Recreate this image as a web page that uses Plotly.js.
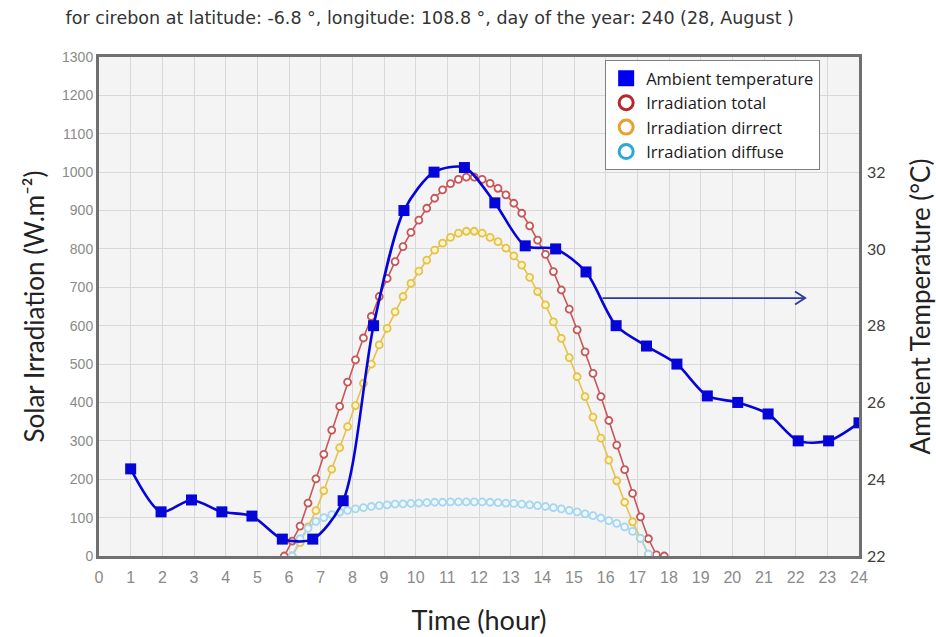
<!DOCTYPE html>
<html>
<head>
<meta charset="utf-8">
<script src="https://cdn.plot.ly/plotly-3.0.1.min.js"></script>
<style>
  html, body { margin: 0; padding: 0; background: #ffffff; }
  #chart { width: 936px; height: 637px; }
</style>
</head>
<body>
<div id="chart"></div>
<script>
// ---- Ambient temperature (right axis, °C) ----
const timeTemp = [1.00, 1.96, 2.92, 3.88, 4.83, 5.79, 6.75, 7.71, 8.67, 9.63, 10.58, 11.54, 12.50,
                  13.46, 14.42, 15.38, 16.33, 17.29, 18.25, 19.21, 20.17, 21.13, 22.08, 23.04, 24.00];
const ambientTemp = [24.27, 23.15, 23.46, 23.15, 23.04, 22.44, 22.44, 23.44, 28.0, 31.0, 32.0, 32.12, 31.2,
                     30.08, 30.0, 29.4, 28.0, 27.47, 27.0, 26.17, 26.0, 25.7, 25.0, 25.0, 25.47];

// ---- Irradiation total (W/m2) ----
const timeTotal = [5.85, 6.10, 6.35, 6.60, 6.85, 7.10, 7.35, 7.60, 7.85, 8.10, 8.35, 8.60, 8.85,
                   9.10, 9.35, 9.60, 9.85, 10.10, 10.35, 10.60, 10.85, 11.10, 11.35, 11.60, 11.85,
                   12.10, 12.35, 12.60, 12.85, 13.10, 13.35, 13.60, 13.85, 14.10, 14.35, 14.60, 14.85,
                   15.10, 15.35, 15.60, 15.85, 16.10, 16.35, 16.60, 16.85, 17.10, 17.35, 17.60, 17.85];
const irrTotal = [0, 39, 78, 138, 201, 265, 328, 390, 453, 511, 568, 624, 676,
                  723, 767, 806, 843, 875, 906, 932, 954, 970, 981, 987, 987,
                  981, 971, 958, 941, 919, 893, 860, 823, 786, 741, 693, 643,
                  589, 532, 476, 415, 353, 289, 225, 163, 102, 45, 3, 0];

// ---- Irradiation direct (W/m2) ----
const timeDirect = [6.10, 6.35, 6.60, 6.85, 7.10, 7.35, 7.60, 7.85, 8.10, 8.35, 8.60, 8.85,
                    9.10, 9.35, 9.60, 9.85, 10.10, 10.35, 10.60, 10.85, 11.10, 11.35, 11.60, 11.85,
                    12.10, 12.35, 12.60, 12.85, 13.10, 13.35, 13.60, 13.85, 14.10, 14.35, 14.60, 14.85,
                    15.10, 15.35, 15.60, 15.85, 16.10, 16.35, 16.60, 16.85, 17.10, 17.35];
const irrDirect = [0, 35, 76, 118, 170, 226, 282, 337, 392, 450, 500, 550,
                   593, 636, 676, 710, 742, 771, 797, 815, 830, 841, 846, 846,
                   841, 830, 819, 802, 782, 758, 726, 689, 654, 610, 567, 517,
                   467, 415, 362, 307, 250, 196, 140, 89, 46, 5];

// ---- Irradiation diffuse (W/m2) ----
const timeDiffuse = timeDirect;
const irrDiffuse = [0, 45, 72, 90, 100, 108, 114, 119, 123, 126, 129, 131,
                    133, 135, 136, 137, 138, 139, 140, 140, 141, 141, 141, 141,
                    141, 140, 139, 138, 137, 135, 133, 131, 129, 126, 123, 119,
                    115, 110, 105, 99, 92, 85, 76, 64, 46, 5];

// ---- Labels ----
const titleText = "for cirebon at latitude: -6.8 °, longitude: 108.8 °, day of the year: 240 (28, August )";
const xTitle = "Time (hour)";
const yTitle = "Solar Irradiation (W.m⁻²)";
const y2Title = "Ambient Temperature (°C)";
const seriesNames = ["Ambient temperature", "Irradiation total", "Irradiation dirrect", "Irradiation diffuse"];
const y2TickVals = [22, 24, 26, 28, 30, 32];

// arrow annotation (pointing to the right-hand axis), in data units
const arrowFrom = [15.9, 672];
const arrowTo = [22.3, 672];

const cBlue = "#0505d8";
const cRed = "#c85656";
const cYellow = "#e6c24c";
const cCyan = "#a8d6ee";

const traces = [
  { x: timeTotal, y: irrTotal, type: "scatter", mode: "lines+markers", showlegend: false,
    line: { color: cRed, width: 1.6 },
    marker: { symbol: "circle", size: 7, color: "#ffffff", line: { color: cRed, width: 1.8 } } },
  { x: timeDirect, y: irrDirect, type: "scatter", mode: "lines+markers", showlegend: false,
    line: { color: cYellow, width: 1.6 },
    marker: { symbol: "circle", size: 7, color: "#fff6c8", line: { color: cYellow, width: 1.8 } } },
  { x: timeDiffuse, y: irrDiffuse, type: "scatter", mode: "lines+markers", showlegend: false,
    line: { color: cCyan, width: 1.6 },
    marker: { symbol: "circle", size: 7, color: "#eef8fe", line: { color: cCyan, width: 1.8 } } },
  { x: timeTemp, y: ambientTemp, type: "scatter", mode: "lines+markers", yaxis: "y2", showlegend: false,
    line: { color: cBlue, width: 2.6, shape: "spline", smoothing: 0.8 },
    marker: { symbol: "square", size: 11, color: cBlue } },
  // legend entries (markers only)
  { x: [null], y: [null], type: "scatter", mode: "markers", name: seriesNames[0],
    marker: { symbol: "square", size: 16, color: "#0000f0" } },
  { x: [null], y: [null], type: "scatter", mode: "markers", name: seriesNames[1],
    marker: { symbol: "circle", size: 14, color: "#ffffff", line: { color: "#b8282a", width: 3 } } },
  { x: [null], y: [null], type: "scatter", mode: "markers", name: seriesNames[2],
    marker: { symbol: "circle", size: 14, color: "#ffffff", line: { color: "#e8a030", width: 3 } } },
  { x: [null], y: [null], type: "scatter", mode: "markers", name: seriesNames[3],
    marker: { symbol: "circle", size: 14, color: "#ffffff", line: { color: "#2aa8d8", width: 3 } } }
];

const headDx = 0.32, headDy = 17;
const layout = {
  width: 936, height: 637,
  margin: { l: 99, r: 77, t: 57, b: 81, pad: 0 },
  paper_bgcolor: "#ffffff",
  plot_bgcolor: "#f4f4f4",
  title: { text: titleText, font: { family: "DejaVu Sans, sans-serif", size: 17.5, color: "#333333" },
           xref: "container", x: 0.07, xanchor: "left", yref: "container", y: 0.972, yanchor: "middle" },
  xaxis: {
    range: [0, 24], dtick: 1, tick0: 0, showgrid: true, gridcolor: "#d8d8d8", gridwidth: 1,
    zeroline: false, showline: true, linecolor: "#707070", linewidth: 3, mirror: true, ticks: "",
    ticklabelstandoff: 5,
    tickfont: { family: "Liberation Sans Narrow, Liberation Sans, Arial, sans-serif", size: 16, color: "#8a8a8a" },
    title: { text: xTitle, font: { family: "Lato, sans-serif", size: 27, color: "#222222" }, standoff: 26 }
  },
  yaxis: {
    range: [0, 1300], dtick: 100, tick0: 0, showgrid: true, gridcolor: "#d8d8d8", gridwidth: 1,
    zeroline: false, showline: true, linecolor: "#707070", linewidth: 3, mirror: true, ticks: "",
    tickfont: { family: "Liberation Sans, Arial, sans-serif", size: 14, color: "#8a8a8a" },
    title: { text: yTitle, font: { family: "Lato, sans-serif", size: 26, color: "#222222" }, standoff: 10 }
  },
  yaxis2: {
    overlaying: "y", side: "right", range: [22, 35], tickvals: y2TickVals,
    showgrid: false, zeroline: false, showline: false, ticks: "", ticklabelstandoff: 7,
    tickfont: { family: "Lato, sans-serif", size: 16, color: "#404040" },
    title: { text: y2Title, font: { family: "Lato, sans-serif", size: 26, color: "#222222" }, standoff: 27 }
  },
  legend: {
    x: 0.666, xanchor: "left", y: 0.994, yanchor: "top",
    bgcolor: "#ffffff", bordercolor: "#808080", borderwidth: 1,
    font: { family: "Open Sans, sans-serif", size: 16.5, color: "#1a1a1a" },
    tracegroupgap: 0, itemwidth: 30
  },
  shapes: [
    { type: "line", xref: "x", yref: "y", x0: arrowFrom[0], y0: arrowFrom[1], x1: arrowTo[0], y1: arrowTo[1],
      line: { color: "#2b3a9e", width: 1.8 } },
    { type: "path", xref: "x", yref: "y",
      path: "M " + (arrowTo[0] - headDx) + "," + (arrowTo[1] + headDy) + " L " + arrowTo[0] + "," + arrowTo[1] +
            " L " + (arrowTo[0] - headDx) + "," + (arrowTo[1] - headDy),
      line: { color: "#2b3a9e", width: 1.8 } }
  ]
};

Plotly.newPlot("chart", traces, layout, { displayModeBar: false, staticPlot: true });
</script>
</body>
</html>
